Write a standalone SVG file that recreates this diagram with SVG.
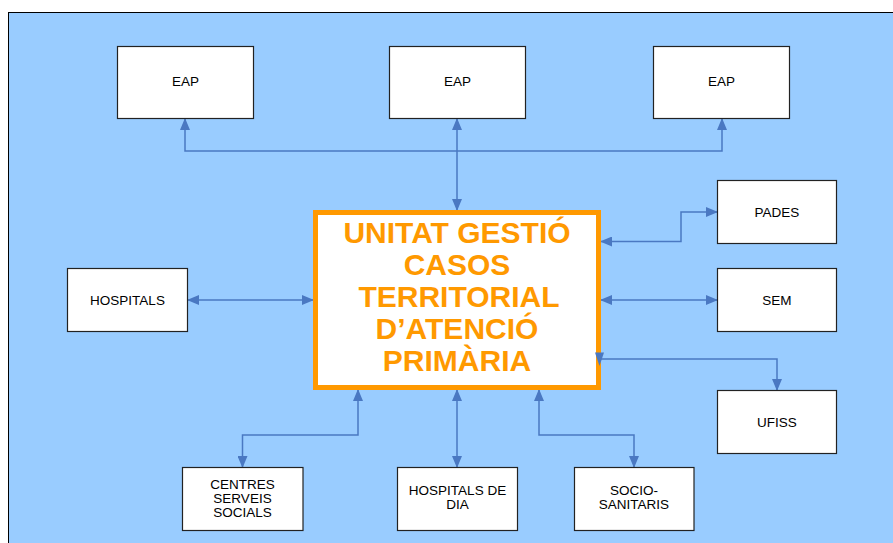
<svg xmlns="http://www.w3.org/2000/svg" width="893" height="543" viewBox="0 0 893 543">
<style>
.node rect{fill:#fff;stroke:#222;stroke-width:1.2}
.node text{font-family:"Liberation Sans",Arial,sans-serif;font-size:13.5px;fill:#000;text-anchor:middle}
.conn{fill:none;stroke:#4a78c2;stroke-width:1.5}
.main text{font-family:"Liberation Sans",Arial,sans-serif;font-size:30px;font-weight:bold;fill:#ff9900;text-anchor:middle}
</style>
<defs>
<marker id="ah" markerUnits="userSpaceOnUse" markerWidth="12" markerHeight="10" refX="11" refY="5" orient="auto-start-reverse" viewBox="0 0 12 10">
<path d="M0,0 L12,5 L0,10 Z" fill="#4a78c2"/>
</marker>
</defs>
<rect x="8.5" y="12.5" width="900" height="540" fill="#99ccff" stroke="#000" stroke-width="1"/>
<g id="connectors">
<path class="conn" d="M185,119 V151 H722 V119" marker-start="url(#ah)" marker-end="url(#ah)"/>
<path class="conn" d="M457,119 V210" marker-start="url(#ah)" marker-end="url(#ah)"/>
<path class="conn" d="M188,300 H313" marker-start="url(#ah)" marker-end="url(#ah)"/>
<path class="conn" d="M601,241.5 H681 V212 H717" marker-start="url(#ah)" marker-end="url(#ah)"/>
<path class="conn" d="M601,300 H717" marker-start="url(#ah)" marker-end="url(#ah)"/>
<path class="conn" d="M599,359 H777 V390" marker-end="url(#ah)"/>
<path class="conn" d="M358,390 V435 H242.5 V467" marker-start="url(#ah)" marker-end="url(#ah)"/>
<path class="conn" d="M457,390 V467" marker-start="url(#ah)" marker-end="url(#ah)"/>
<path class="conn" d="M539,390 V435 H634 V467" marker-start="url(#ah)" marker-end="url(#ah)"/>
</g>
<g id="main" class="main">
<rect x="315.5" y="212.5" width="283" height="175" fill="#fff" stroke="#ff9900" stroke-width="5"/>
<text x="457" y="243">UNITAT GESTIÓ</text>
<text x="457" y="275">CASOS</text>
<text x="459" y="307">TERRITORIAL</text>
<text x="457" y="339">D’ATENCIÓ</text>
<text x="457" y="371">PRIMÀRIA</text>
</g>
<path d="M595,352.5 L604,352.5 L599.5,366 Z" fill="#4a78c2"/>
<g id="eap1" class="node"><rect x="117.5" y="46.5" width="136" height="72"/><text x="185.5" y="86">EAP</text></g>
<g id="eap2" class="node"><rect x="389.5" y="46.5" width="136" height="72"/><text x="457.5" y="86">EAP</text></g>
<g id="eap3" class="node"><rect x="653.5" y="46.5" width="136" height="72"/><text x="721.5" y="86">EAP</text></g>
<g id="pades" class="node"><rect x="717.5" y="180.5" width="119" height="63"/><text x="777" y="216.5">PADES</text></g>
<g id="sem" class="node"><rect x="717.5" y="268.5" width="119" height="63"/><text x="777" y="304.5">SEM</text></g>
<g id="ufiss" class="node"><rect x="717.5" y="390.5" width="119" height="63"/><text x="777" y="426.5">UFISS</text></g>
<g id="hospitals" class="node"><rect x="67.5" y="268.5" width="120" height="63"/><text x="127.5" y="304.5">HOSPITALS</text></g>
<g id="centres" class="node"><rect x="182.5" y="467.5" width="120.5" height="63"/><text x="242.5" y="488.5">CENTRES</text><text x="242.5" y="502.5">SERVEIS</text><text x="242.5" y="517">SOCIALS</text></g>
<g id="hospdia" class="node"><rect x="397.5" y="467.5" width="120" height="63"/><text x="457.5" y="494.5">HOSPITALS DE</text><text x="457.5" y="509">DIA</text></g>
<g id="socio" class="node"><rect x="574.5" y="467.5" width="119.5" height="63"/><text x="634" y="494.5">SOCIO-</text><text x="634" y="509">SANITARIS</text></g>
</svg>
